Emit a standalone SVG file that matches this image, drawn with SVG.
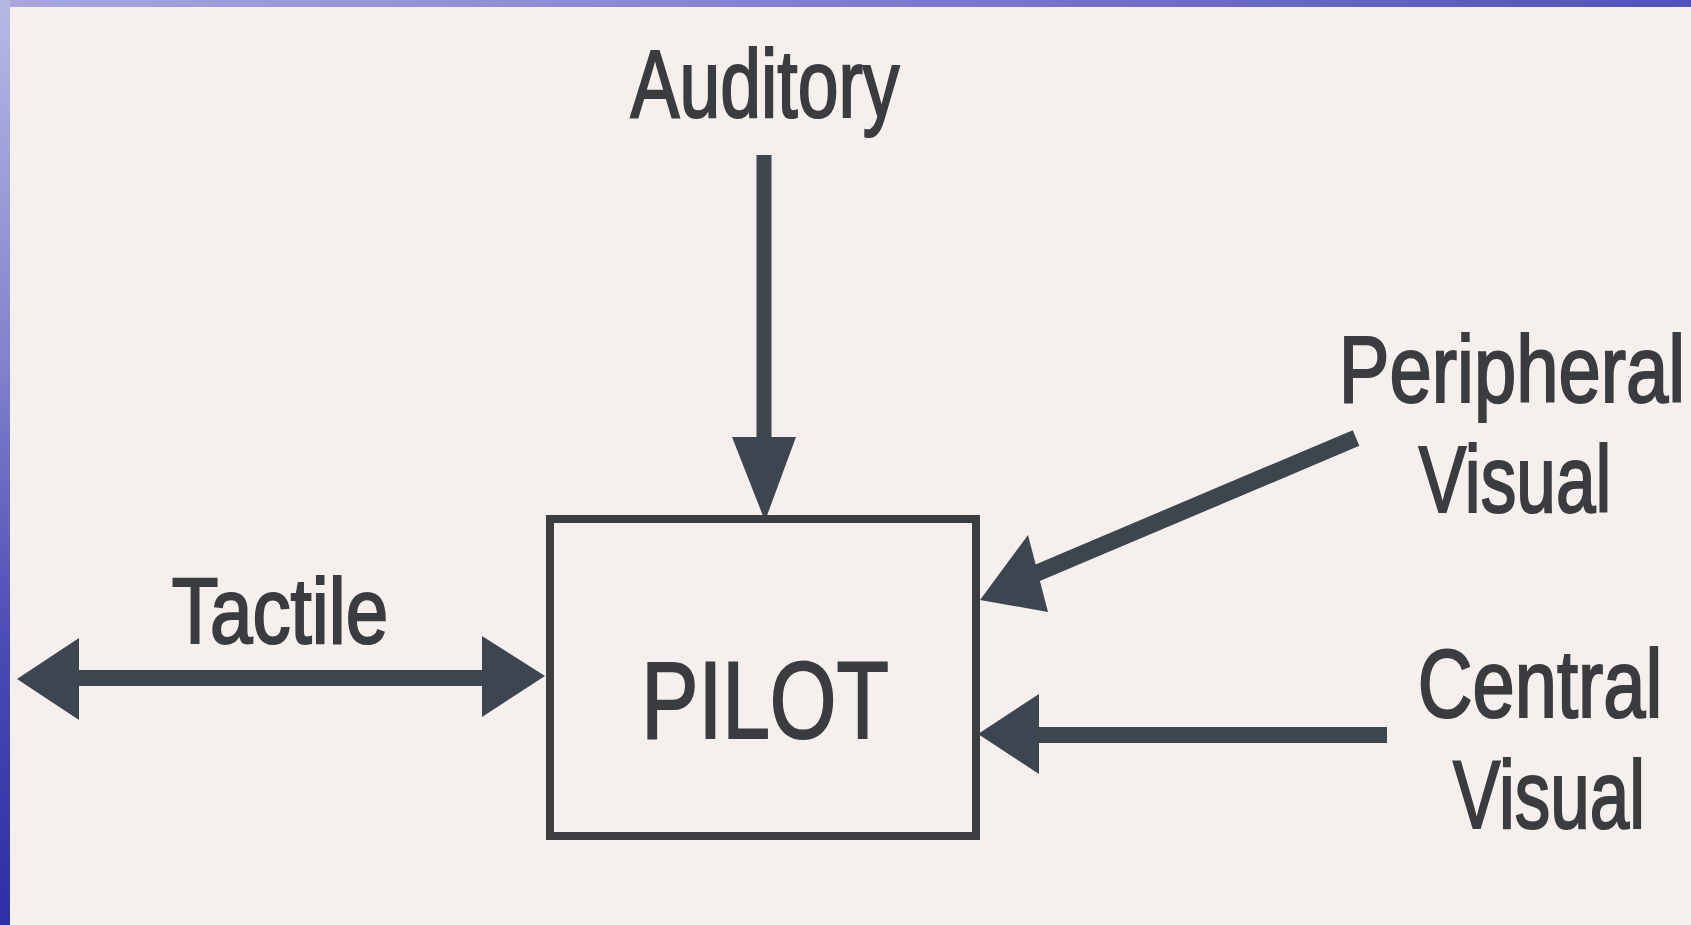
<svg xmlns="http://www.w3.org/2000/svg" width="1691" height="925" viewBox="0 0 1691 925">
  <defs>
    <linearGradient id="topBar" x1="0" y1="0" x2="1" y2="0">
      <stop offset="0" stop-color="#a8a8de"/>
      <stop offset="0.5" stop-color="#7e7ed0"/>
      <stop offset="1" stop-color="#5252ba"/>
    </linearGradient>
    <linearGradient id="leftBar" x1="0" y1="0" x2="0" y2="1">
      <stop offset="0" stop-color="#b8b8e6"/>
      <stop offset="0.4" stop-color="#8080cc"/>
      <stop offset="0.7" stop-color="#4a4ab4"/>
      <stop offset="1" stop-color="#2e2ea6"/>
    </linearGradient>
  </defs>
  <style>
    .lbl { font-family: "Liberation Sans", Arial, sans-serif; fill: #3b3c3f; stroke: #3b3c3f; stroke-width: 2.2; text-anchor: middle; }
    .shaft { stroke: #3d454e; fill: none; stroke-linecap: butt; }
    .head { fill: #3d4650; }
    .box { fill: none; stroke: #3b3d40; stroke-width: 8; }
  </style>
  <rect x="0" y="0" width="1691" height="925" fill="#f5f0ed"/>
  <rect x="0" y="0" width="1691" height="7" fill="url(#topBar)"/>
  <rect x="0" y="0" width="10" height="925" fill="url(#leftBar)"/>

  <g id="connectors">
    <g id="edge-auditory">
      <line class="shaft" x1="764" y1="155" x2="764" y2="442" stroke-width="15"/>
      <polygon class="head" points="732,437 796,437 765,521"/>
    </g>
    <g id="edge-tactile">
      <line class="shaft" x1="72" y1="678" x2="488" y2="678" stroke-width="16"/>
      <polygon class="head" points="17,679 79,638 79,720"/>
      <polygon class="head" points="545,676 482,636 482,717"/>
    </g>
    <g id="edge-peripheral">
      <line class="shaft" x1="1356" y1="438" x2="1030" y2="576" stroke-width="17"/>
      <polygon class="head" points="980,600 1028,535 1048,612"/>
    </g>
    <g id="edge-central">
      <line class="shaft" x1="1387" y1="735" x2="1032" y2="735" stroke-width="16"/>
      <polygon class="head" points="978,734 1039,694 1039,774"/>
    </g>
  </g>

  <g id="node-pilot">
    <rect class="box" x="550" y="519" width="426" height="317"/>
    <text class="lbl" transform="translate(765,738) scale(0.786,1)" x="0" y="0" font-size="109">PILOT</text>
  </g>
  <g id="node-auditory">
    <text class="lbl" transform="translate(765,117) scale(0.764,1)" x="0" y="0" font-size="96">Auditory</text>
  </g>
  <g id="node-tactile">
    <text class="lbl" transform="translate(280,643) scale(0.83,1)" x="0" y="0" font-size="92">Tactile</text>
  </g>
  <g id="node-peripheral-visual">
    <text class="lbl" transform="translate(1512,402) scale(0.8,1)" x="0" y="0" font-size="95">Peripheral</text>
    <text class="lbl" transform="translate(1515,512) scale(0.75,1)" x="0" y="0" font-size="95">Visual</text>
  </g>
  <g id="node-central-visual">
    <text class="lbl" transform="translate(1540,717) scale(0.79,1)" x="0" y="0" font-size="96">Central</text>
    <text class="lbl" transform="translate(1549,828) scale(0.74,1)" x="0" y="0" font-size="96">Visual</text>
  </g>
</svg>
